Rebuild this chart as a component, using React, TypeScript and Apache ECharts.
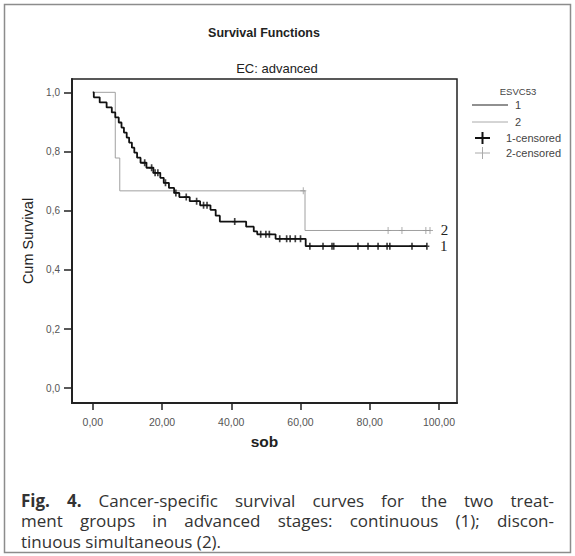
import React, { useEffect, useRef } from "react";
import * as echarts from "echarts";

// ---- texts ----
const TITLE = "Survival Functions";
const SUBTITLE = "EC: advanced";
const X_NAME = "sob";
const Y_NAME = "Cum Survival";
const LEGEND_TITLE = "ESVC53";
const GROUP_NAMES = ["1", "2"];
const CENSOR_NAMES = ["1-censored", "2-censored"];
const CAPTION_BOLD_WORDS = ["Fig.", "4."];
const CAPTION_LINES = [
  "Fig. 4. Cancer-specific survival curves for the two treat-",
  "ment groups in advanced stages: continuous (1); discon-",
  "tinuous simultaneous (2).",
];

// ---- ticks ----
const X_TICKS = [0, 20, 40, 60, 80, 100];
const Y_TICKS = [0, 0.2, 0.4, 0.6, 0.8, 1.0];

// ---- group 1 (continuous): Kaplan-Meier steps ----
const g1Times = [0, 0.3, 2, 4, 5.5, 6.5, 7.5, 8.3, 9, 9.8, 10.5, 11.3, 12, 12.8, 13.8, 15.5, 17.5, 19.5, 20.5, 22, 23.5, 25, 28, 31, 34, 35.5, 36.7, 44.3, 46.5, 47.5, 52.8, 61.5, 96.5];
const g1Surv = [1, 0.983, 0.966, 0.949, 0.932, 0.915, 0.898, 0.881, 0.864, 0.847, 0.83, 0.813, 0.796, 0.779, 0.762, 0.745, 0.728, 0.711, 0.694, 0.677, 0.66, 0.646, 0.632, 0.618, 0.603, 0.583, 0.563, 0.546, 0.53, 0.52, 0.505, 0.48, 0.48];
const g1Censored = [15, 17, 18, 18.8, 21, 24, 27, 30, 32, 33, 41, 48.5, 50, 51, 54, 56, 57, 58.5, 60, 62.7, 66.5, 69.1, 69.6, 76.6, 79.5, 82.4, 85, 85.8, 92.2, 96.5];

// ---- group 2 (discontinuous simultaneous) ----
const g2Times = [0, 6.5, 7.8, 61.3, 97.6];
const g2Surv = [1, 0.778, 0.667, 0.533, 0.533];
const g2Censored = [60.8, 85.3, 89.3, 96.2, 97.4];

const FONT = "Liberation Sans";
const CAP_FONT = "Open Sans";
const CAP_SIZE = 17;
const CAP_LEFT = 21;
const CAP_RIGHT = 554;
const CAP_TOP = 500;
const CAP_LINE_H = 20.8;
const PLUS_THICK = "path://M2,0H4V2.8H6V4.2H4V7H2V4.2H0V2.8H2Z";
const PLUS_THIN = "path://M2.5,0H3.5V3H6V4H3.5V7H2.5V4H0V3H2.5Z";

const kmData = (t: number[], s: number[]) => t.map((x, i) => [x, s[i]]);
const survAt = (t: number[], s: number[], x: number) => {
  let v = s[0];
  for (let i = 0; i < t.length; i++) if (t[i] <= x) v = s[i];
  return v;
};

function captionElements() {
  const ctx = document.createElement("canvas").getContext("2d")!;
  const els: any[] = [];
  CAPTION_LINES.forEach((line, li) => {
    const words = line.split(" ");
    const bold = words.map((w, wi) => li === 0 && wi < CAPTION_BOLD_WORDS.length && CAPTION_BOLD_WORDS[wi] === w);
    const widths = words.map((w, wi) => {
      ctx.font = `${bold[wi] ? "bold " : ""}${CAP_SIZE}px "${CAP_FONT}"`;
      return ctx.measureText(w).width;
    });
    ctx.font = `${CAP_SIZE}px "${CAP_FONT}"`;
    const space = ctx.measureText(" ").width;
    const total = widths.reduce((a, b) => a + b, 0);
    const isLast = li === CAPTION_LINES.length - 1;
    const gap = isLast ? space : (CAP_RIGHT - CAP_LEFT - total) / (words.length - 1);
    let x = CAP_LEFT;
    words.forEach((w, wi) => {
      els.push({
        type: "text",
        x,
        y: CAP_TOP + li * CAP_LINE_H,
        style: {
          text: w,
          fontFamily: CAP_FONT,
          fontSize: CAP_SIZE,
          fontWeight: bold[wi] ? "bold" : "normal",
          fill: "#333",
          textAlign: "left",
          textVerticalAlign: "middle",
        },
      });
      x += widths[wi] + gap;
    });
  });
  return els;
}

export default function App() {
  const ref = useRef<HTMLDivElement>(null);
  useEffect(() => {
    document.body.style.margin = "0";
    const chart = echarts.init(ref.current!, null, { renderer: "svg" });
    const legendText = (x: number, y: number, text: string) => ({
      type: "text",
      x,
      y,
      style: { text, fontFamily: FONT, fontSize: 11, fill: "#444", textAlign: "left", textVerticalAlign: "middle" },
    });
    const graphic: any[] = [
      { type: "rect", silent: true, shape: { x: 4.5, y: 4.5, width: 566, height: 548 }, style: { fill: "none", stroke: "#8c8c8c", lineWidth: 1.5 } },
      { type: "text", x: 264, y: 33, style: { text: TITLE, fontFamily: FONT, fontWeight: "bold", fontSize: 12.5, fill: "#222", textAlign: "center", textVerticalAlign: "middle" } },
      { type: "text", x: 277, y: 68, style: { text: SUBTITLE, fontFamily: FONT, fontSize: 13, fill: "#222", textAlign: "center", textVerticalAlign: "middle" } },
      // legend
      { type: "text", x: 518, y: 91, style: { text: LEGEND_TITLE, fontFamily: FONT, fontSize: 9.5, fill: "#444", textAlign: "center", textVerticalAlign: "middle" } },
      { type: "line", shape: { x1: 472, y1: 105, x2: 508, y2: 105 }, style: { stroke: "#222", lineWidth: 1.2 } },
      legendText(515, 105, GROUP_NAMES[0]),
      { type: "line", shape: { x1: 472, y1: 122, x2: 508, y2: 122 }, style: { stroke: "#aaa", lineWidth: 1 } },
      legendText(515, 122, GROUP_NAMES[1]),
      { type: "line", shape: { x1: 475, y1: 138, x2: 490, y2: 138 }, style: { stroke: "#111", lineWidth: 2 } },
      { type: "line", shape: { x1: 482.5, y1: 132, x2: 482.5, y2: 144 }, style: { stroke: "#111", lineWidth: 2 } },
      legendText(506, 138, CENSOR_NAMES[0]),
      { type: "line", shape: { x1: 475, y1: 153, x2: 490, y2: 153 }, style: { stroke: "#aaa", lineWidth: 1 } },
      { type: "line", shape: { x1: 482.5, y1: 147, x2: 482.5, y2: 159 }, style: { stroke: "#aaa", lineWidth: 1 } },
      legendText(506, 153, CENSOR_NAMES[1]),
      ...captionElements(),
    ];

    const option: any = {
      animation: false,
      backgroundColor: "#fff",
      grid: { left: 72, top: 79, right: 118, bottom: 153, show: true, borderColor: "#222", borderWidth: 1.5, backgroundColor: "transparent" },
      xAxis: {
        type: "value",
        min: -6,
        max: 105.2,
        axisLine: { onZero: false, lineStyle: { color: "#222", width: 2 } },
        axisTick: { customValues: X_TICKS, length: 7, lineStyle: { color: "#222", width: 1.5 } },
        axisLabel: { customValues: X_TICKS, formatter: (v: number) => v.toFixed(2).replace(".", ","), fontFamily: FONT, fontSize: 10.5, color: "#555", margin: 13 },
        splitLine: { show: false },
        name: X_NAME,
        nameLocation: "middle",
        nameGap: 30,
        nameTextStyle: { fontFamily: FONT, fontWeight: "bold", fontSize: 15.5, color: "#222" },
      },
      yAxis: {
        type: "value",
        min: -0.05,
        max: 1.045,
        axisLine: { onZero: false, lineStyle: { color: "#222", width: 2 } },
        axisTick: { customValues: Y_TICKS, length: 8, lineStyle: { color: "#222", width: 1.5 } },
        axisLabel: { customValues: Y_TICKS, formatter: (v: number) => v.toFixed(1).replace(".", ","), fontFamily: FONT, fontSize: 10, color: "#555", margin: 12 },
        splitLine: { show: false },
        name: Y_NAME,
        nameLocation: "middle",
        nameGap: 35,
        nameTextStyle: { fontFamily: FONT, fontSize: 14.5, color: "#222" },
      },
      series: [
        {
          name: GROUP_NAMES[1],
          type: "line",
          step: "end",
          data: kmData(g2Times, g2Surv),
          showSymbol: false,
          lineStyle: { color: "#a0a0a0", width: 1 },
          endLabel: { show: true, formatter: GROUP_NAMES[1], fontFamily: "Liberation Serif", fontSize: 15, color: "#222", distance: 10 },
          z: 2,
        },
        {
          name: GROUP_NAMES[0],
          type: "line",
          step: "end",
          data: kmData(g1Times, g1Surv),
          showSymbol: false,
          lineStyle: { color: "#111", width: 1.8 },
          endLabel: { show: true, formatter: GROUP_NAMES[0], fontFamily: "Liberation Serif", fontSize: 15, color: "#222", distance: 13 },
          z: 3,
        },
        {
          name: CENSOR_NAMES[1],
          type: "scatter",
          data: g2Censored.map((x) => [x, survAt(g2Times, g2Surv, x)]),
          symbol: PLUS_THIN,
          symbolSize: [6, 7],
          itemStyle: { color: "#999" },
          z: 2,
        },
        {
          name: CENSOR_NAMES[0],
          type: "scatter",
          data: g1Censored.map((x) => [x, survAt(g1Times, g1Surv, x)]),
          symbol: PLUS_THICK,
          symbolSize: [5, 7],
          itemStyle: { color: "#111" },
          z: 4,
        },
      ],
      graphic,
    };
    chart.setOption(option);
    return () => chart.dispose();
  }, []);
  return <div ref={ref} style={{ position: "absolute", left: 0, top: 0, width: 575, height: 556 }} />;
}
